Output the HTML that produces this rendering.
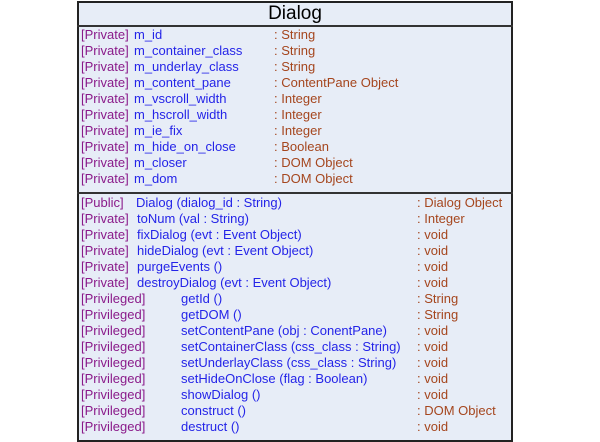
<!DOCTYPE html>
<html><head><style>
body{margin:0;width:600px;height:442px;background:#fff;position:relative;font-family:"Liberation Sans",Arial,sans-serif;}
#box{position:absolute;left:77px;top:1px;width:432px;height:437px;border:2px solid #222;background:#e7edf7;}
.hl{position:absolute;left:77px;width:436px;height:2px;background:#333;}
.t{position:absolute;font-size:13px;line-height:14px;white-space:nowrap;}
.p{color:#8a1a8a}.b{color:#2424e8}.r{color:#a5461e}
#title{position:absolute;left:77px;width:436px;top:3px;text-align:center;font-size:19px;color:#000;}
</style></head><body>
<div id="box"></div>
<div id="title">Dialog</div>
<div class="hl" style="top:25px"></div>
<div class="hl" style="top:192px"></div>
<div id="rows"></div>
<script>
var a=[["m_id","String"],["m_container_class","String"],["m_underlay_class","String"],["m_content_pane","ContentPane Object"],["m_vscroll_width","Integer"],["m_hscroll_width","Integer"],["m_ie_fix","Integer"],["m_hide_on_close","Boolean"],["m_closer","DOM Object"],["m_dom","DOM Object"]];
var m=[["[Public]","Dialog (dialog_id : String)","Dialog Object",136],["[Private]","toNum (val : String)","Integer",137],["[Private]","fixDialog (evt : Event Object)","void",137],["[Private]","hideDialog (evt : Event Object)","void",137],["[Private]","purgeEvents ()","void",137],["[Private]","destroyDialog (evt : Event Object)","void",137],["[Privileged]","getId ()","String",181],["[Privileged]","getDOM ()","String",181],["[Privileged]","setContentPane (obj : ConentPane)","void",181],["[Privileged]","setContainerClass (css_class : String)","void",181],["[Privileged]","setUnderlayClass (css_class : String)","void",181],["[Privileged]","setHideOnClose (flag : Boolean)","void",181],["[Privileged]","showDialog ()","void",181],["[Privileged]","construct ()","DOM Object",181],["[Privileged]","destruct ()","void",181]];
var h="";
a.forEach(function(r,i){var y=28+i*16;
h+='<div class="t p" style="left:81px;top:'+y+'px">[Private]</div><div class="t b" style="left:134px;top:'+y+'px">'+r[0]+'</div><div class="t r" style="left:274px;top:'+y+'px">: '+r[1]+'</div>';});
m.forEach(function(r,i){var y=196+i*16;
h+='<div class="t p" style="left:81px;top:'+y+'px">'+r[0]+'</div><div class="t b" style="left:'+r[3]+'px;top:'+y+'px">'+r[1]+'</div><div class="t r" style="left:417px;top:'+y+'px">: '+r[2]+'</div>';});
document.getElementById("rows").innerHTML=h;
</script>
</body></html>
